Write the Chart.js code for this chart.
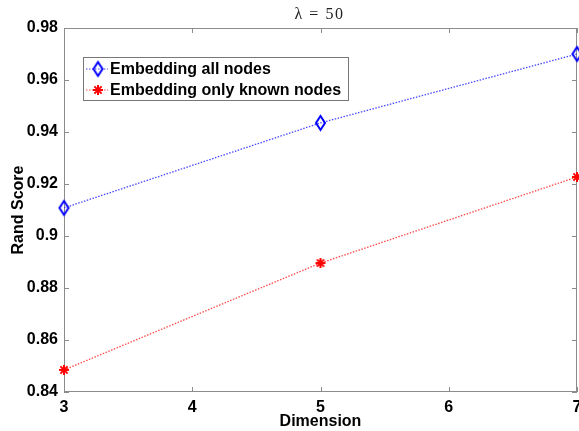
<!doctype html>
<html lang="en">
<head>
<meta charset="utf-8">
<title>Rand Score vs Dimension</title>
<style>
  *{margin:0;padding:0;box-sizing:border-box;}
  body{background:#fff;}
  .chartbox{width:579px;height:431px;position:relative;}
</style>
</head>
<body>
<div class="chartbox"><canvas id="myChart"></canvas></div>
<script src="https://cdn.jsdelivr.net/npm/chart.js@4/dist/chart.umd.min.js"></script>
<script>
// data
const dimensions = [3, 5, 7];
const allNodes = [0.9108, 0.9435, 0.9700];
const knownNodes = [0.8485, 0.8896, 0.9227];
const seriesNames = ['Embedding all nodes', 'Embedding only known nodes'];
const xTicks = [3, 4, 5, 6, 7];
const yTicks = [0.84, 0.86, 0.88, 0.9, 0.92, 0.94, 0.96, 0.98];
const titleText = 'λ = 50';

const FONT = '"Liberation Sans", Arial, sans-serif';
const AXIS = '#8c8c8c';

function diamondMarker() {
    const c = document.createElement('canvas');
    c.width = 13; c.height = 18;
    const g = c.getContext('2d');
    g.strokeStyle = '#0000ff';
    g.lineWidth = 2;
    g.beginPath();
    g.moveTo(6.5, 2); g.lineTo(11, 9); g.lineTo(6.5, 16); g.lineTo(2, 9);
    g.closePath();
    g.stroke();
    return c;
}
function asteriskMarker() {
    const c = document.createElement('canvas');
    c.width = 14; c.height = 14;
    const g = c.getContext('2d');
    g.strokeStyle = '#ff0000';
    g.lineWidth = 2;
    const r = 5, d = 3.6;
    g.beginPath();
    g.moveTo(7 - r, 7); g.lineTo(7 + r, 7);
    g.moveTo(7, 7 - r); g.lineTo(7, 7 + r);
    g.moveTo(7 - d, 7 - d); g.lineTo(7 + d, 7 + d);
    g.moveTo(7 - d, 7 + d); g.lineTo(7 + d, 7 - d);
    g.stroke();
    return c;
}
const diamond = diamondMarker();
const asterisk = asteriskMarker();

// box, inward ticks, title, legend (MATLAB look)
const matlabAxes = {
    id: 'matlabAxes',
    beforeDatasetsDraw(chart) {
        const ctx = chart.ctx;
        const a = chart.chartArea;
        const xs = chart.scales.x, ys = chart.scales.y;
        ctx.save();
        ctx.strokeStyle = AXIS;
        ctx.lineWidth = 1;
        ctx.strokeRect(a.left + 0.5, a.top + 0.5, a.right - a.left - 1, a.bottom - a.top - 1);
        ctx.beginPath();
        xTicks.forEach(v => {
            const px = Math.round(xs.getPixelForValue(v)) + 0.5;
            ctx.moveTo(px, a.bottom); ctx.lineTo(px, a.bottom - 5);
            ctx.moveTo(px, a.top); ctx.lineTo(px, a.top + 5);
        });
        yTicks.forEach(v => {
            const py = Math.round(ys.getPixelForValue(v)) + 0.5;
            ctx.moveTo(a.left, py); ctx.lineTo(a.left + 5, py);
            ctx.moveTo(a.right, py); ctx.lineTo(a.right - 5, py);
        });
        ctx.stroke();

        // title
        ctx.fillStyle = '#222';
        ctx.font = '16px "Liberation Serif", "DejaVu Serif", serif';
        ctx.letterSpacing = '1.5px';
        ctx.textAlign = 'center';
        ctx.textBaseline = 'middle';
        ctx.fillText(titleText, (a.left + a.right) / 2 - 1, 15);
        ctx.restore();
    },
    afterDraw(chart) {
        const ctx = chart.ctx;
        const a = chart.chartArea;
        ctx.save();
        // legend
        const lx = a.left + 19, ly = a.top + 29, lw = 265, lh = 43;
        ctx.fillStyle = '#fff';
        ctx.fillRect(lx, ly, lw, lh);
        ctx.strokeStyle = '#777';
        ctx.lineWidth = 1;
        ctx.strokeRect(lx + 0.5, ly + 0.5, lw, lh);
        ctx.textBaseline = 'middle';
        chart.data.datasets.forEach((ds, i) => {
            const cy = ly + 12 + i * 21;
            ctx.strokeStyle = ds.borderColor;
            ctx.lineWidth = 1.2;
            ctx.setLineDash(ds.borderDash);
            ctx.beginPath();
            ctx.moveTo(lx + 3, cy); ctx.lineTo(lx + 25, cy);
            ctx.stroke();
            ctx.setLineDash([]);
            const img = ds.pointStyle;
            ctx.drawImage(img, lx + 15 - img.width / 2, cy - img.height / 2);
            ctx.fillStyle = '#000';
            ctx.font = 'bold 16px ' + FONT;
            ctx.textAlign = 'left';
            ctx.fillText(ds.label, lx + 27, cy + 1);
        });
        ctx.restore();
    }
};

const ctx = document.getElementById('myChart').getContext('2d');
const myChart = new Chart(ctx, {
    type: 'line',
    data: {
        datasets: [{
            label: seriesNames[0],
            data: dimensions.map((d, i) => ({x: d, y: allNodes[i]})),
            borderColor: 'rgba(40, 40, 255, 0.85)',
            borderWidth: 1.3,
            borderDash: [1.5, 1.5],
            pointStyle: diamond,
            pointRadius: 6,
            clip: false
        }, {
            label: seriesNames[1],
            data: dimensions.map((d, i) => ({x: d, y: knownNodes[i]})),
            borderColor: 'rgba(255, 40, 40, 0.85)',
            borderWidth: 1.3,
            borderDash: [1.5, 1.5],
            pointStyle: asterisk,
            pointRadius: 6,
            clip: false
        }]
    },
    options: {
        responsive: true,
        maintainAspectRatio: false,
        animation: false,
        layout: {autoPadding: false, padding: {top: 28, right: 2, left: 0, bottom: 0}},
        plugins: {legend: {display: false}, tooltip: {enabled: false}},
        scales: {
            x: {
                type: 'linear',
                min: 3, max: 7,
                grid: {display: false, drawTicks: false},
                border: {display: false},
                afterBuildTicks: s => { s.ticks = xTicks.map(v => ({value: v})); },
                afterFit: s => { s.height = 39; s.paddingLeft = 0; s.paddingRight = 0; },
                ticks: {color: '#000', padding: 6, maxRotation: 0, font: {family: FONT, size: 16, weight: 'bold'}},
                title: {display: true, text: 'Dimension', color: '#000', padding: {top: 0, bottom: 0},
                        font: {family: FONT, size: 16, weight: 'bold'}}
            },
            y: {
                min: 0.84, max: 0.98,
                grid: {display: false, drawTicks: false},
                border: {display: false},
                afterBuildTicks: s => { s.ticks = yTicks.map(v => ({value: v})); },
                afterFit: s => { s.width = 64; s.paddingTop = 0; s.paddingBottom = 0; },
                ticks: {color: '#000', padding: 6, font: {family: FONT, size: 16, weight: 'bold'},
                        callback: v => String(Number(v.toFixed(2)))},
                title: {display: true, text: 'Rand Score', color: '#000', padding: {top: 9, bottom: 0},
                        font: {family: FONT, size: 16, weight: 'bold'}}
            }
        }
    },
    plugins: [matlabAxes]
});
</script>
</body>
</html>
